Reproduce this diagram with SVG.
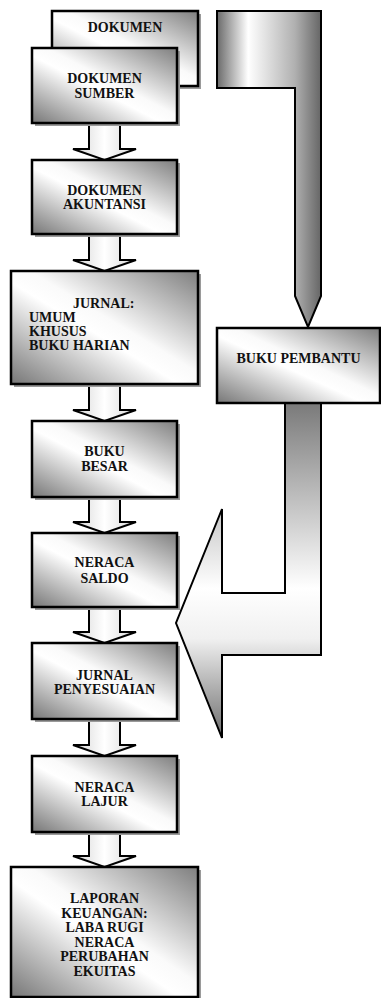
<svg xmlns="http://www.w3.org/2000/svg" width="381" height="998" viewBox="0 0 381 998">
<defs>
<linearGradient id="boxg" x1="0" y1="1" x2="1" y2="0">
<stop offset="0" stop-color="#767676"/>
<stop offset="0.45" stop-color="#ffffff"/>
<stop offset="0.55" stop-color="#fafafa"/>
<stop offset="1" stop-color="#7e7e7e"/>
</linearGradient>
<linearGradient id="conng" x1="0" y1="0" x2="1" y2="0">
<stop offset="0" stop-color="#d4d4d4"/>
<stop offset="0.5" stop-color="#ffffff"/>
<stop offset="1" stop-color="#d8d8d8"/>
</linearGradient>
<linearGradient id="topg" gradientUnits="userSpaceOnUse" x1="217" y1="0" x2="321" y2="0">
<stop offset="0" stop-color="#6a6a6a"/>
<stop offset="0.3" stop-color="#ffffff"/>
<stop offset="0.75" stop-color="#b0b0b0"/>
<stop offset="1" stop-color="#666666"/>
</linearGradient>
<linearGradient id="ug" gradientUnits="userSpaceOnUse" x1="0" y1="403" x2="0" y2="740">
<stop offset="0" stop-color="#7a7a7a"/>
<stop offset="0.55" stop-color="#ffffff"/>
<stop offset="0.7" stop-color="#f0f0f0"/>
<stop offset="1" stop-color="#6a6a6a"/>
</linearGradient>
</defs>
<style>
.box{fill:url(#boxg);stroke:#000;stroke-width:2.5}
.shadow{fill:#9a9a9a}
.conn{fill:url(#conng);stroke:#000;stroke-width:2;stroke-linejoin:miter}
.big{stroke:#000;stroke-width:2;stroke-linejoin:miter}
text{font-family:"Liberation Serif","Times New Roman",serif;font-weight:bold;font-size:14px;fill:#111}
.c{text-anchor:middle}
</style>
<rect width="381" height="998" fill="#fff"/>
<g id="connectors">
<polygon class="big" fill="url(#topg)" points="217,11 321,11 321,296 308,327 295,296 295,88 217,88"/>
<polygon class="big" fill="url(#ug)" points="285,403 285,593 222,593 222,509 176,623 222,738 222,655 321,655 321,403"/>
<polygon class="conn" points="89,123 120,123 120,149 136,149 104.5,160 73,149 89,149"/>
<polygon class="conn" points="89,234 120,234 120,260 136,260 104.5,271 73,260 89,260"/>
<polygon class="conn" points="89,384 120,384 120,410 136,410 104.5,421 73,410 89,410"/>
<polygon class="conn" points="89,497 120,497 120,522 136,522 104.5,533 73,522 89,522"/>
<polygon class="conn" points="89,607 120,607 120,632 136,632 104.5,643 73,632 89,632"/>
<polygon class="conn" points="89,719 120,719 120,745 136,745 104.5,756 73,745 89,745"/>
<polygon class="conn" points="89,832 120,832 120,856 136,856 104.5,867 73,856 89,856"/>
</g>
<g id="dokumen">
<rect class="shadow" x="55" y="14" width="146" height="75"/>
<rect class="box" x="52" y="11" width="146" height="75"/>
<text class="c" x="125" y="32">DOKUMEN</text>
</g>
<g id="dokumen-sumber">
<rect class="shadow" x="35" y="51" width="145" height="75"/>
<rect class="box" x="32" y="48" width="145" height="75"/>
<text class="c" x="104.5" y="83">DOKUMEN</text>
<text class="c" x="104.5" y="98">SUMBER</text>
</g>
<g id="dokumen-akuntansi">
<rect class="shadow" x="35" y="163" width="145" height="74"/>
<rect class="box" x="32" y="160" width="145" height="74"/>
<text class="c" x="104.5" y="195">DOKUMEN</text>
<text class="c" x="104.5" y="209">AKUNTANSI</text>
</g>
<g id="jurnal">
<rect class="shadow" x="14" y="274" width="187" height="113"/>
<rect class="box" x="11" y="271" width="187" height="113"/>
<text x="73" y="308">JURNAL:</text>
<text x="29" y="322">UMUM</text>
<text x="29" y="336">KHUSUS</text>
<text x="29" y="350">BUKU HARIAN</text>
</g>
<g id="buku-pembantu">
<rect class="box" x="217" y="328" width="163" height="75"/>
<text class="c" x="298.5" y="363">BUKU PEMBANTU</text>
</g>
<g id="buku-besar">
<rect class="shadow" x="35" y="424" width="145" height="76"/>
<rect class="box" x="32" y="421" width="145" height="76"/>
<text class="c" x="104.5" y="456">BUKU</text>
<text class="c" x="104.5" y="471">BESAR</text>
</g>
<g id="neraca-saldo">
<rect class="shadow" x="35" y="536" width="145" height="74"/>
<rect class="box" x="32" y="533" width="145" height="74"/>
<text class="c" x="104.5" y="567">NERACA</text>
<text class="c" x="104.5" y="583">SALDO</text>
</g>
<g id="jurnal-penyesuaian">
<rect class="shadow" x="35" y="646" width="145" height="76"/>
<rect class="box" x="32" y="643" width="145" height="76"/>
<text class="c" x="104.5" y="680">JURNAL</text>
<text class="c" x="104.5" y="694">PENYESUAIAN</text>
</g>
<g id="neraca-lajur">
<rect class="shadow" x="35" y="759" width="145" height="76"/>
<rect class="box" x="32" y="756" width="145" height="76"/>
<text class="c" x="104.5" y="792">NERACA</text>
<text class="c" x="104.5" y="806">LAJUR</text>
</g>
<g id="laporan-keuangan">
<rect class="shadow" x="14" y="870" width="187" height="131"/>
<rect class="box" x="11" y="867" width="187" height="130"/>
<text class="c" x="104.5" y="903">LAPORAN</text>
<text class="c" x="104.5" y="918">KEUANGAN:</text>
<text class="c" x="104.5" y="932">LABA RUGI</text>
<text class="c" x="104.5" y="947">NERACA</text>
<text class="c" x="104.5" y="961">PERUBAHAN</text>
<text class="c" x="104.5" y="976">EKUITAS</text>
</g>
</svg>
